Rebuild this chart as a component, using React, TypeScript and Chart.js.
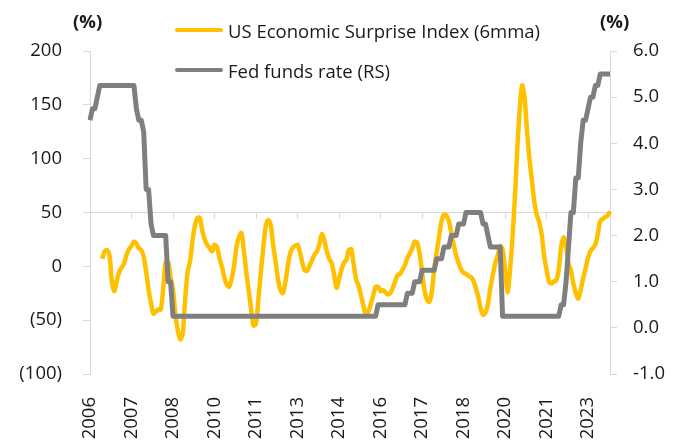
import React, { useEffect, useRef } from "react";
import { Chart, registerables } from "chart.js";

Chart.register(...registerables);

// Monthly observations, first point = Feb 2006, last = Nov 2023
const START_YEAR = 2006;
const START_MONTH = 2;

const surpriseIndex6mma: (number | null)[] = [
  null, null, null, null, null, 7, 14, 15, 10, -15, -23, -13,
  -5, -1, 3, 11, 16, 19, 23, 21, 17, 15, 9, -5,
  -22, -34, -44, -42, -40, -40, -20, 4, 4, -10, -22, -45,
  -60, -68, -62, -30, -5, 5, 24, 38, 45, 45, 33, 25,
  20, 17, 14, 20, 18, 8, 0, -10, -17, -19, -12, 0,
  18, 27, 31, 15, -5, -22, -40, -55, -53, -30, -5, 18,
  37, 43, 39, 20, 5, -12, -22, -25, -15, 0, 12, 17,
  19, 20, 13, 3, -4, -4, 1, 6, 11, 14, 21, 30,
  24, 14, 7, 3, -8, -20, -12, -3, 3, 6, 15, 16,
  2, -12, -18, -27, -37, -45, -42, -35, -27, -19, -19, -23,
  -22, -24, -26, -25, -20, -14, -8, -7, -3, 1, 8, 12,
  17, 23, 22, 12, -5, -22, -31, -33, -24, -3, 13, 28,
  42, 48, 47, 42, 31, 20, 10, 3, -3, -6, -7, -9,
  -10, -13, -20, -28, -39, -45, -43, -35, -20, -8, 3, 10,
  19, 16, -3, -24, -5, 25, 62, 108, 145, 168, 157, 126,
  100, 80, 60, 48, 41, 30, 10, -3, -14, -16, -14, -13,
  -3, 18, 27, 18, 3, -4, -16, -25, -30, -22, -11, -2,
  8, 14, 17, 20, 30, 42, 44, 46, 47, 51,
];

const fedFundsRate: number[] = [
  // 2006 (Feb-Dec)
  4.5, 4.75, 4.75, 5, 5.25, 5.25, 5.25, 5.25, 5.25, 5.25, 5.25,
  // 2007
  5.25, 5.25, 5.25, 5.25, 5.25, 5.25, 5.25, 5.25, 4.75, 4.5, 4.5, 4.25,
  // 2008
  3, 3, 2.25, 2, 2, 2, 2, 2, 2, 1, 1, 0.25,
  // 2009
  0.25, 0.25, 0.25, 0.25, 0.25, 0.25, 0.25, 0.25, 0.25, 0.25, 0.25, 0.25,
  // 2010
  0.25, 0.25, 0.25, 0.25, 0.25, 0.25, 0.25, 0.25, 0.25, 0.25, 0.25, 0.25,
  // 2011
  0.25, 0.25, 0.25, 0.25, 0.25, 0.25, 0.25, 0.25, 0.25, 0.25, 0.25, 0.25,
  // 2012
  0.25, 0.25, 0.25, 0.25, 0.25, 0.25, 0.25, 0.25, 0.25, 0.25, 0.25, 0.25,
  // 2013
  0.25, 0.25, 0.25, 0.25, 0.25, 0.25, 0.25, 0.25, 0.25, 0.25, 0.25, 0.25,
  // 2014
  0.25, 0.25, 0.25, 0.25, 0.25, 0.25, 0.25, 0.25, 0.25, 0.25, 0.25, 0.25,
  // 2015
  0.25, 0.25, 0.25, 0.25, 0.25, 0.25, 0.25, 0.25, 0.25, 0.25, 0.25, 0.5,
  // 2016
  0.5, 0.5, 0.5, 0.5, 0.5, 0.5, 0.5, 0.5, 0.5, 0.5, 0.5, 0.75,
  // 2017
  0.75, 0.75, 1, 1, 1, 1.25, 1.25, 1.25, 1.25, 1.25, 1.25, 1.5,
  // 2018
  1.5, 1.5, 1.75, 1.75, 1.75, 2, 2, 2, 2.25, 2.25, 2.25, 2.5,
  // 2019
  2.5, 2.5, 2.5, 2.5, 2.5, 2.5, 2.25, 2.25, 2, 1.75, 1.75, 1.75,
  // 2020
  1.75, 1.75, 0.25, 0.25, 0.25, 0.25, 0.25, 0.25, 0.25, 0.25, 0.25, 0.25,
  // 2021
  0.25, 0.25, 0.25, 0.25, 0.25, 0.25, 0.25, 0.25, 0.25, 0.25, 0.25, 0.25,
  // 2022
  0.25, 0.25, 0.5, 0.5, 1, 1.75, 2.5, 2.5, 3.25, 3.25, 4, 4.5,
  // 2023 (Jan-Nov)
  4.5, 4.75, 5, 5, 5.25, 5.25, 5.5, 5.5, 5.5, 5.5, 5.5,
];

const monthLabels: string[] = fedFundsRate.map((_, i) => {
  const m = START_MONTH - 1 + i;
  const y = START_YEAR + Math.floor(m / 12);
  const mm = (m % 12) + 1;
  return `${y}-${mm < 10 ? "0" + mm : mm}`;
});

const LABEL_STEP = 17; // an x-axis label every 17 months
const leftMin = -100, leftMax = 200, leftStep = 50;
const rightMin = -1, rightMax = 6, rightStep = 1;

const seriesNames = ["US Economic Surprise Index (6mma)", "Fed funds rate (RS)"];
const seriesColors = ["#FFC000", "#7F7F7F"];

const FONT = "'Open Sans', 'Noto Sans', sans-serif";
const FS = 18.5;
const TEXT = "#1a1a1a";
const AXIS = "#d9d9d9";

export default function App() {
  const ref = useRef<HTMLCanvasElement | null>(null);

  useEffect(() => {
    if (!ref.current) return;
    const keepEvery = (scale: any) => {
      scale.ticks = scale.ticks.filter((t: any) => t.value % LABEL_STEP === 0);
    };
    const chart = new Chart(ref.current, {
      type: "line",
      data: {
        labels: monthLabels,
        datasets: [
          {
            label: seriesNames[1],
            data: fedFundsRate,
            borderColor: seriesColors[1],
            backgroundColor: seriesColors[1],
            borderWidth: 5,
            pointRadius: 0,
            tension: 0,
            yAxisID: "y1",
            borderJoinStyle: "round",
          },
          {
            label: seriesNames[0],
            data: surpriseIndex6mma,
            borderColor: seriesColors[0],
            backgroundColor: seriesColors[0],
            borderWidth: 4.5,
            pointRadius: 0,
            tension: 0.3,
            yAxisID: "y",
            borderJoinStyle: "round",
          },
        ],
      },
      options: {
        animation: false,
        responsive: true,
        maintainAspectRatio: false,
        layout: { padding: { top: 43, left: 0, right: 0, bottom: 0 } },
        plugins: { legend: { display: false }, tooltip: { enabled: false } },
        scales: {
          x: {
            type: "category",
            position: "bottom",
            offset: false,
            grid: { display: false, drawTicks: false },
            border: { display: false },
            afterBuildTicks: keepEvery,
            afterFit: (s: any) => { s.height = 66; },
            ticks: {
              autoSkip: false,
              maxRotation: 90,
              minRotation: 90,
              padding: 23,
              color: TEXT,
              font: { family: FONT, size: FS },
              callback: (v: any) => monthLabels[Number(v)].slice(0, 4),
            },
          },
          x2: {
            type: "category",
            position: { y: 50 } as any,
            offset: false,
            grid: { display: true, drawOnChartArea: false, drawTicks: true, tickLength: 6, color: AXIS },
            border: { display: true, color: AXIS, width: 1 },
            afterBuildTicks: keepEvery,
            ticks: { display: false, autoSkip: false },
          },
          y: {
            position: "left",
            min: leftMin,
            max: leftMax,
            afterFit: (s: any) => { s.width = 82; },
            grid: { drawOnChartArea: false, drawTicks: true, tickLength: 7, color: AXIS },
            border: { display: true, color: AXIS },
            ticks: {
              stepSize: leftStep,
              padding: 21,
              color: TEXT,
              font: { family: FONT, size: FS },
              callback: (v: any) => (Number(v) < 0 ? `(${-Number(v)})` : `${v}`),
            },
          },
          y1: {
            position: "right",
            min: rightMin,
            max: rightMax,
            afterFit: (s: any) => { s.width = 62; },
            grid: { drawOnChartArea: false, drawTicks: true, tickLength: 7, color: AXIS },
            border: { display: true, color: AXIS },
            ticks: {
              stepSize: rightStep,
              padding: 16,
              color: TEXT,
              font: { family: FONT, size: FS },
              callback: (v: any) => Number(v).toFixed(1),
            },
          },
        },
      },
    } as any);
    return () => chart.destroy();
  }, []);

  const unitStyle: React.CSSProperties = {
    position: "absolute",
    top: 2,
    fontFamily: FONT,
    fontWeight: 700,
    fontSize: FS,
    lineHeight: "22px",
    color: TEXT,
  };
  const legendRow = (i: number, top: number) => (
    <div
      key={i}
      style={{
        position: "absolute",
        left: 167,
        top,
        height: 24,
        display: "flex",
        alignItems: "center",
        fontFamily: FONT,
        fontSize: FS,
        color: TEXT,
        whiteSpace: "nowrap",
      }}
    >
      <span
        style={{
          display: "inline-block",
          width: 48,
          height: 4,
          borderRadius: 2,
          background: seriesColors[i],
          marginRight: 5,
        }}
      />
      {seriesNames[i]}
    </div>
  );

  return (
    <div style={{ position: "relative", width: 664, height: 432 }}>
      <canvas ref={ref} />
      <div style={{ ...unitStyle, left: 65 }}>(%)</div>
      <div style={{ ...unitStyle, left: 592 }}>(%)</div>
      {legendRow(0, 10)}
      {legendRow(1, 50)}
    </div>
  );
}
